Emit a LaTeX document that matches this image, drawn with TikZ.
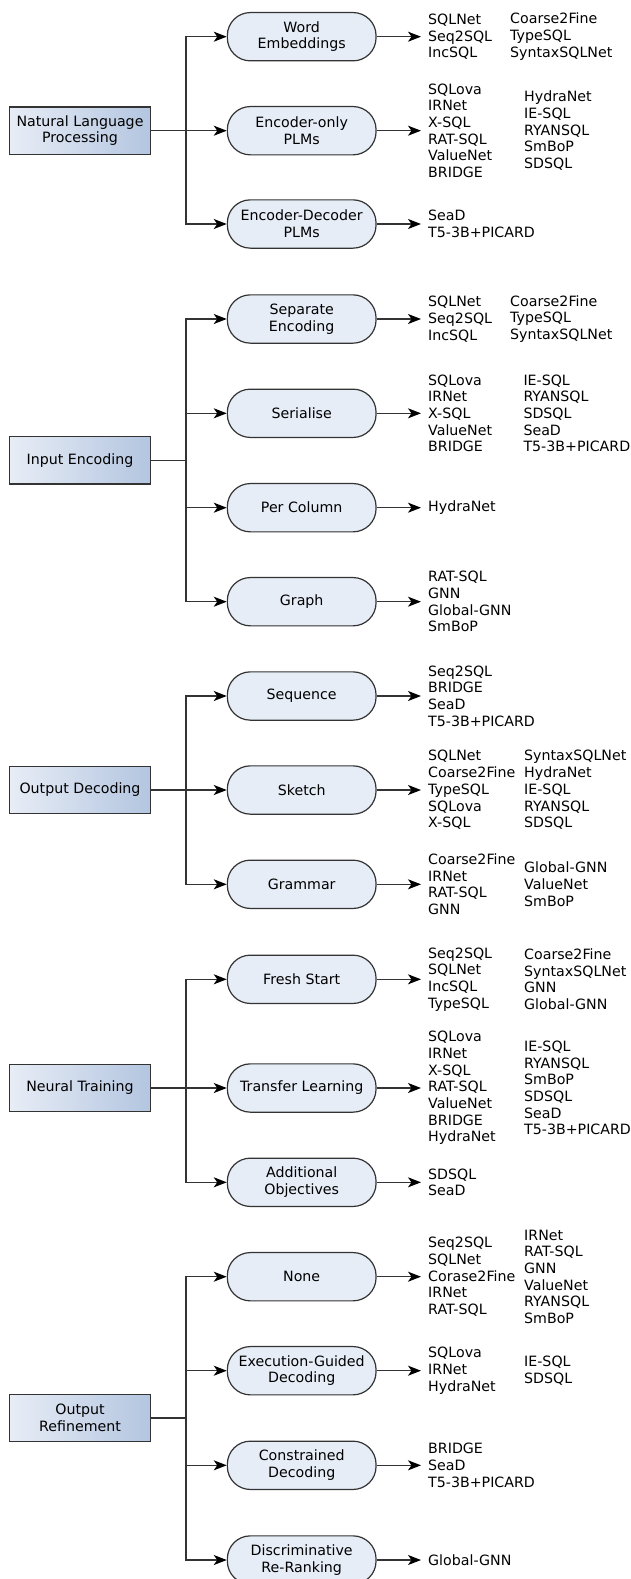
\documentclass[tikz,border=0pt]{standalone}
\usepackage{fontspec}
\setmainfont{DejaVu Sans}
\usetikzlibrary{arrows.meta}
\definecolor{linec}{HTML}{333333}
\definecolor{parL}{HTML}{E8EDF6}
\definecolor{parR}{HTML}{B3C5E0}
\definecolor{childc}{HTML}{E6EDF7}
\tikzset{
  every node/.style={font=\fontsize{14.2}{16.7}\selectfont, text=black},
  parentbox/.style={draw=linec, line width=1.3pt, rectangle, left color=parL, right color=parR,
    minimum width=141.4pt, minimum height=47.3pt, align=center, inner sep=2pt},
  childbox/.style={draw=linec, line width=1.2pt, rectangle, rounded corners=23pt, fill=childc,
    minimum width=148.7pt, minimum height=48.3pt, align=center, inner sep=2pt},
  listone/.style={anchor=west, align=left, inner xsep=7pt, inner ysep=0pt},
  listtwo/.style={anchor=west, align=left, inner xsep=0pt, inner ysep=0pt},
  conn/.style={draw=linec, line width=1.3pt},
  mytip/.tip={Stealth[length=13pt,width=10pt,inset=3.5pt,fill=black,color=black]},
  arr/.style={conn, -{mytip}},
  darr/.style={conn, {mytip}-{mytip}},
}
\begin{document}
\begin{tikzpicture}[x=1pt,y=-1pt]
\useasboundingbox (0,0) rectangle (631,1579);

% ---------- parents ----------
\node[parentbox] (p1) at (80,130.7) {Natural Language\\Processing};
\node[parentbox] (p2) at (80,460.3) {Input Encoding};
\node[parentbox] (p3) at (80,790) {Output Decoding};
\node[parentbox] (p4) at (80,1088) {Neural Training};
\node[parentbox] (p5) at (80,1418) {Output\\Refinement};

% ---------- children ----------
\node[childbox] (c1) at (301.7,36.7) {Word\\Embeddings};
\node[childbox] (c2) at (301.7,130.7) {Encoder-only\\PLMs};
\node[childbox] (c3) at (301.7,224) {Encoder-Decoder\\PLMs};
\node[childbox] (c4) at (301.7,319) {Separate\\Encoding};
\node[childbox] (c5) at (301.7,413.3) {Serialise};
\node[childbox] (c6) at (301.7,507.7) {Per Column};
\node[childbox] (c7) at (301.7,601.7) {Graph};
\node[childbox] (c8) at (301.7,696) {Sequence};
\node[childbox] (c9) at (301.7,790) {Sketch};
\node[childbox] (c10) at (301.7,884.3) {Grammar};
\node[childbox] (c11) at (301.7,979.3) {Fresh Start};
\node[childbox] (c12) at (301.7,1088) {Transfer Learning};
\node[childbox] (c13) at (301.7,1182.3) {Additional\\Objectives};
\node[childbox] (c14) at (301.7,1276.7) {None};
\node[childbox] (c15) at (301.7,1370.7) {Execution-Guided\\Decoding};
\node[childbox] (c16) at (301.7,1465.3) {Constrained\\Decoding};
\node[childbox] (c17) at (301.7,1560) {Discriminative\\Re-Ranking};

% ---------- lists ----------
\node[listone] (l1) at (421,36.7) {SQLNet\\Seq2SQL\\IncSQL};
\node[listtwo] (m1) at (510,36.7) {Coarse2Fine\\TypeSQL\\SyntaxSQLNet};
\node[listone] (l2) at (421,130.7) {SQLova\\IRNet\\X-SQL\\RAT-SQL\\ValueNet\\BRIDGE};
\node[listtwo] (m2) at (524,130.7) {HydraNet\\IE-SQL\\RYANSQL\\SmBoP\\SDSQL};
\node[listone] (l3) at (421,224) {SeaD\\T5-3B+PICARD};
\node[listone] (l4) at (421,319) {SQLNet\\Seq2SQL\\IncSQL};
\node[listtwo] (m4) at (510,319) {Coarse2Fine\\TypeSQL\\SyntaxSQLNet};
\node[listone] (l5) at (421,413.3) {SQLova\\IRNet\\X-SQL\\ValueNet\\BRIDGE};
\node[listtwo] (m5) at (523.3,413.3) {IE-SQL\\RYANSQL\\SDSQL\\SeaD\\T5-3B+PICARD};
\node[listone] (l6) at (421,507.7) {HydraNet};
\node[listone] (l7) at (421,601.7) {RAT-SQL\\GNN\\Global-GNN\\SmBoP};
\node[listone] (l8) at (421,696) {Seq2SQL\\BRIDGE\\SeaD\\T5-3B+PICARD};
\node[listone] (l9) at (421,790) {SQLNet\\Coarse2Fine\\TypeSQL\\SQLova\\X-SQL};
\node[listtwo] (m9) at (524,790) {SyntaxSQLNet\\HydraNet\\IE-SQL\\RYANSQL\\SDSQL};
\node[listone] (l10) at (421,884.3) {Coarse2Fine\\IRNet\\RAT-SQL\\GNN};
\node[listtwo] (m10) at (524,884.3) {Global-GNN\\ValueNet\\SmBoP};
\node[listone] (l11) at (421,979.3) {Seq2SQL\\SQLNet\\IncSQL\\TypeSQL};
\node[listtwo] (m11) at (524,979.3) {Coarse2Fine\\SyntaxSQLNet\\GNN\\Global-GNN};
\node[listone] (l12) at (421,1088) {SQLova\\IRNet\\X-SQL\\RAT-SQL\\ValueNet\\BRIDGE\\HydraNet};
\node[listtwo] (m12) at (524,1088) {IE-SQL\\RYANSQL\\SmBoP\\SDSQL\\SeaD\\T5-3B+PICARD};
\node[listone] (l13) at (421,1182.3) {SDSQL\\SeaD};
\node[listone] (l14) at (421,1276.7) {Seq2SQL\\SQLNet\\Corase2Fine\\IRNet\\RAT-SQL};
\node[listtwo] (m14) at (524,1276.7) {IRNet\\RAT-SQL\\GNN\\ValueNet\\RYANSQL\\SmBoP};
\node[listone] (l15) at (421,1370.7) {SQLova\\IRNet\\HydraNet};
\node[listtwo] (m15) at (524,1370.7) {IE-SQL\\SDSQL};
\node[listone] (l16) at (421,1465.3) {BRIDGE\\SeaD\\T5-3B+PICARD};
\node[listone] (l17) at (421,1560) {Global-GNN};

% ---------- trunk points ----------
\foreach \p in {1,...,5}
  \coordinate (t\p) at ([xshift=34.6pt]p\p.east);

% ---------- parent -> children connectors ----------
\foreach \p/\first/\last in {1/1/3,2/4/7,3/8/10,4/11/13,5/14/17} {
  \draw[conn] (p\p.east) -- (t\p);
  \draw[darr] (c\first.west) -| (t\p) |- (c\last.west);
}
\foreach \p/\c in {1/2,2/5,2/6,3/9,4/12,5/15,5/16}
  \draw[arr] (t\p |- c\c.west) -- (c\c.west);

% ---------- child -> list connectors ----------
\foreach \i in {1,...,17}
  \draw[arr] (c\i.east) -- (l\i.west);
\end{tikzpicture}
\end{document}
